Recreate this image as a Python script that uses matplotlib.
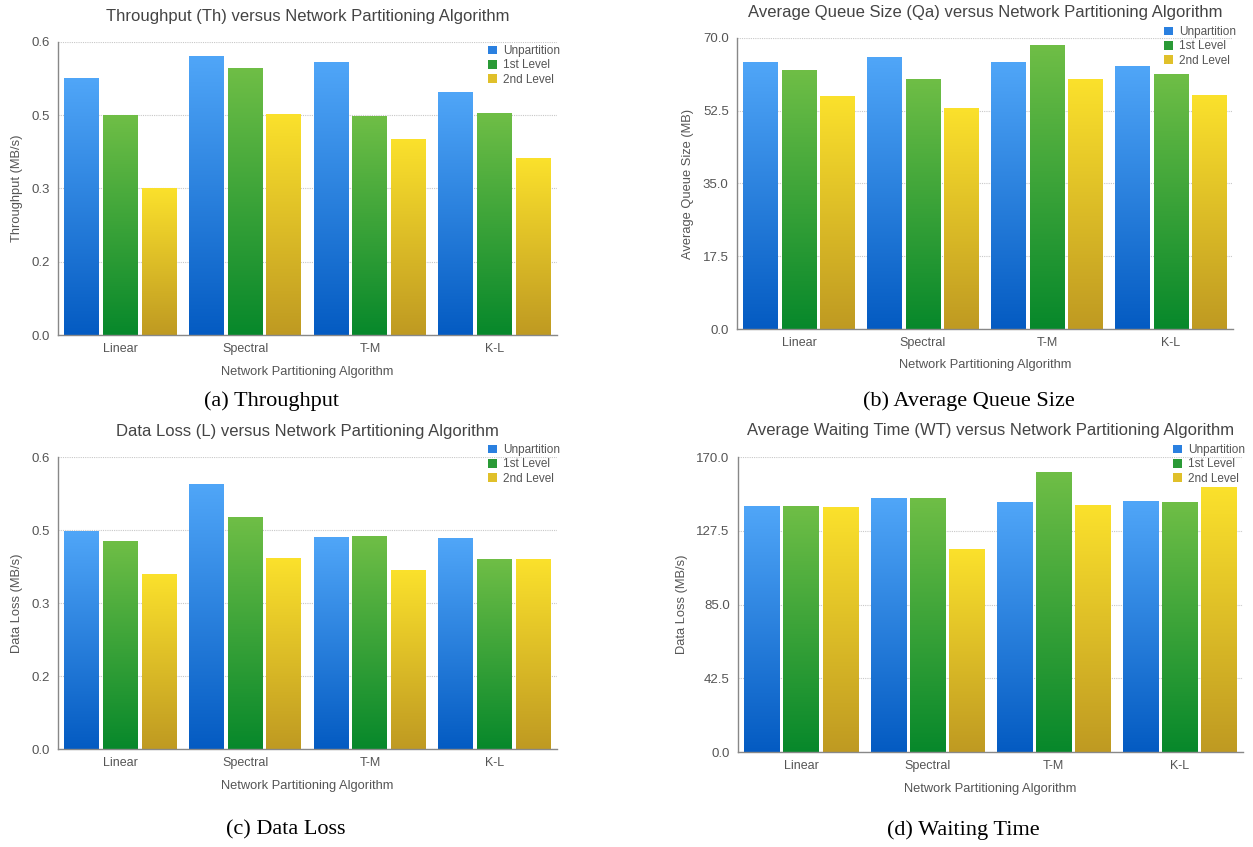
import numpy as np
import matplotlib.pyplot as plt
from matplotlib.colors import LinearSegmentedColormap
from matplotlib.patches import Patch

plt.rcParams["font.family"] = ["Liberation Sans", "DejaVu Sans"]

algorithms = ["Linear", "Spectral", "T-M", "K-L"]
levels = ["Unpartition", "1st Level", "2nd Level"]

# values
throughput_unpart = [0.525, 0.570, 0.559, 0.496]
throughput_first = [0.450, 0.545, 0.447, 0.454]
throughput_second = [0.300, 0.451, 0.400, 0.361]

queue_unpart = [64.1, 65.2, 64.1, 63.2]
queue_first = [62.1, 60.0, 68.1, 61.2]
queue_second = [56.0, 53.1, 60.1, 56.1]

loss_unpart = [0.446, 0.543, 0.435, 0.433]
loss_first = [0.427, 0.476, 0.437, 0.389]
loss_second = [0.359, 0.392, 0.367, 0.390]

wait_unpart = [141.4, 145.8, 143.9, 144.3]
wait_first = [141.4, 145.8, 160.8, 143.9]
wait_second = [141.0, 116.6, 142.1, 152.5]

frac_ticks = [0.0, 0.15, 0.3, 0.45, 0.6]
frac_labels = ["0.0", "0.2", "0.3", "0.5", "0.6"]
queue_ticks = [0.0, 17.5, 35.0, 52.5, 70.0]
wait_ticks = [0.0, 42.5, 85.0, 127.5, 170.0]

W, H = 1253, 847
top_colors = ["#50a6f8", "#6fbe46", "#fbe12c"]
bottom_colors = ["#045bc2", "#07882b", "#bf9a22"]
cmaps = [LinearSegmentedColormap.from_list(f"g{i}", [b, t])
         for i, (t, b) in enumerate(zip(top_colors, bottom_colors))]


def px_axes(x0, y0, x1, y1):
    return fig.add_axes([x0 / W, 1 - y1 / H, (x1 - x0) / W, (y1 - y0) / H])


def panel(ax, series, ticks, ticklabels, title, ylabel, title_y, xlabel_y,
          legend_xy):
    grad = np.linspace(0, 1, 256).reshape(-1, 1)
    bw, offs = 0.28, [-0.31, 0.0, 0.31]
    for k, vals in enumerate(series):
        for i, v in enumerate(vals):
            x0 = i + 0.5 + offs[k] - bw / 2
            ax.imshow(grad, extent=[x0, x0 + bw, 0, v], origin="lower",
                      aspect="auto", cmap=cmaps[k], zorder=2,
                      interpolation="bicubic")
    ax.set_xlim(0, 4)
    ax.set_ylim(0, ticks[-1])
    ax.set_yticks(ticks)
    ax.set_yticklabels(ticklabels, fontsize=9.5, color="#555555")
    ax.set_xticks([i + 0.5 for i in range(len(algorithms))])
    ax.set_xticklabels(algorithms, fontsize=9, color="#555555")
    ax.tick_params(length=0, pad=6)
    ax.yaxis.grid(True, linestyle=(0, (1, 1)), color="#c8c8c8", lw=0.8)
    ax.set_axisbelow(True)
    for s in ["top", "right"]:
        ax.spines[s].set_visible(False)
    for s in ["left", "bottom"]:
        ax.spines[s].set_color("#888888")
        ax.spines[s].set_linewidth(1.0)
    ax.set_ylabel(ylabel, fontsize=9.3, color="#555555", labelpad=6)
    bb = ax.get_position()
    cx = (bb.x0 + bb.x1) / 2
    fig.text(cx, 1 - title_y / H, title, ha="center", va="center",
             fontsize=12, color="#444444")
    fig.text(cx, 1 - xlabel_y / H, "Network Partitioning Algorithm",
             ha="center", va="center", fontsize=9.3, color="#555555")
    handles = [Patch(facecolor=c, edgecolor="none") for c in
               ["#2a80e0", "#2a9a36", "#e0c02a"]]
    lx, ly = legend_xy
    ax.legend(handles, levels, loc="upper right",
              bbox_to_anchor=(lx / W, 1 - ly / H),
              bbox_transform=fig.transFigure, borderpad=0, borderaxespad=0,
              frameon=False, fontsize=8.5, handlelength=0.75,
              handleheight=0.75, handletextpad=0.5, labelspacing=0.2,
              labelcolor="#555555")


fig = plt.figure(figsize=(W / 100, H / 100), dpi=100)

ax_a = px_axes(58, 42, 557, 335)
panel(ax_a, [throughput_unpart, throughput_first, throughput_second],
      frac_ticks, frac_labels,
      "Throughput (Th) versus Network Partitioning Algorithm",
      "Throughput (MB/s)", 17, 372, (560, 45))

ax_b = px_axes(737, 38, 1233, 329)
panel(ax_b, [queue_unpart, queue_first, queue_second],
      queue_ticks, [f"{t:.1f}" for t in queue_ticks],
      "Average Queue Size (Qa) versus Network Partitioning Algorithm",
      "Average Queue Size (MB)", 13, 365, (1236, 26))

ax_c = px_axes(58, 457, 557, 749)
panel(ax_c, [loss_unpart, loss_first, loss_second],
      frac_ticks, frac_labels,
      "Data Loss (L) versus Network Partitioning Algorithm",
      "Data Loss (MB/s)", 431, 786, (560, 444))

ax_d = px_axes(738, 457, 1243, 752)
panel(ax_d, [wait_unpart, wait_first, wait_second],
      wait_ticks, [f"{t:.1f}" for t in wait_ticks],
      "Average Waiting Time (WT) versus Network Partitioning Algorithm",
      "Data Loss (MB/s)", 430, 789, (1245, 444))

captions = [("(a) Throughput", 272, 401), ("(b) Average Queue Size", 969, 401),
            ("(c) Data Loss", 286, 830), ("(d) Waiting Time", 963, 830)]
for text, x, y in captions:
    fig.text(x / W, 1 - y / H, text, ha="center", va="center", fontsize=16,
             family=["Liberation Serif", "DejaVu Serif"], color="black")

plt.savefig("out.png", dpi=100)
